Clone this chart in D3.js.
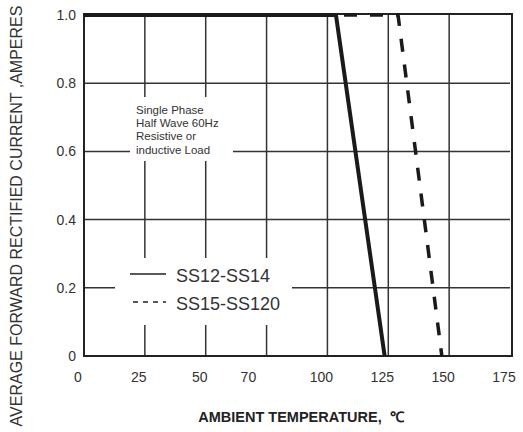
<!DOCTYPE html>
<html>
<head>
<meta charset="utf-8">
<script src="https://cdn.jsdelivr.net/npm/d3@7"></script>
<style>
  body { margin: 0; background: #fff; }
  text { font-family: "Liberation Sans", Arial, sans-serif; fill: #333; }
</style>
</head>
<body>
<div id="chart"></div>
<script>
// curves (temperature in C, current in A)
const tempSS12 = [0, 103.5, 123.5];
const ampSS12 = [1, 1, 0];
const tempSS15 = [0, 129, 147];
const ampSS15 = [1, 1, 0];

const xTickLabels = [0, 25, 50, 70, 100, 125, 150, 175];
const xGrid = [25, 50, 75, 100, 125, 150];
const yTicks = [0, 0.2, 0.4, 0.6, 0.8, 1.0];
const noteLines = ['Single Phase', 'Half Wave 60Hz', 'Resistive or', 'inductive Load'];
const legendNames = ['SS12-SS14', 'SS15-SS120'];

const width = 523, height = 432;
const plotLeft = 84, plotRight = 510, plotTop = 15, plotBottom = 356;

const svg = d3.select('#chart').append('svg')
  .attr('width', width)
  .attr('height', height);

const x = d3.scaleLinear().domain([0, 175]).range([plotLeft, plotRight]);
const y = d3.scaleLinear().domain([0, 1]).range([plotBottom, plotTop]);

// grid
svg.append('g').selectAll('line')
  .data(xGrid)
  .enter().append('line')
  .attr('x1', d => x(d)).attr('x2', d => x(d))
  .attr('y1', plotTop).attr('y2', plotBottom)
  .attr('stroke', '#333').attr('stroke-width', 1.5);

svg.append('g').selectAll('line')
  .data(yTicks.filter(d => d > 0 && d < 1))
  .enter().append('line')
  .attr('x1', plotLeft).attr('x2', plotRight)
  .attr('y1', d => y(d)).attr('y2', d => y(d))
  .attr('stroke', '#333').attr('stroke-width', 1.5);

// white boxes behind the note and the legend
svg.append('rect').attr('x', 130).attr('y', 97).attr('width', 103).attr('height', 64).attr('fill', '#fff');
svg.append('rect').attr('x', 115).attr('y', 258).attr('width', 177).attr('height', 67).attr('fill', '#fff');

// note
svg.append('g').selectAll('text')
  .data(noteLines)
  .enter().append('text')
  .attr('x', 136)
  .attr('y', (d, i) => 114 + i * 13.2)
  .style('font-size', '11.5px')
  .text(d => d);

// frame
svg.append('rect')
  .attr('x', plotLeft).attr('y', plotTop - 1)
  .attr('width', plotRight + 2 - plotLeft).attr('height', plotBottom - plotTop + 1)
  .attr('fill', 'none').attr('stroke', '#222').attr('stroke-width', 2);

// tick labels
svg.append('g').selectAll('text')
  .data(yTicks)
  .enter().append('text')
  .attr('x', 76).attr('y', d => y(d))
  .attr('dy', '0.35em')
  .attr('text-anchor', 'end')
  .style('font-size', '14px')
  .text(d => d === 0 ? '0' : d.toFixed(1));

svg.append('g').selectAll('text')
  .data(xTickLabels)
  .enter().append('text')
  .attr('x', d => x(d) - 6).attr('y', 382)
  .attr('text-anchor', 'middle')
  .style('font-size', '14px')
  .text(d => d);

// axis titles
svg.append('text')
  .attr('transform', 'translate(22,216) rotate(-90)')
  .attr('text-anchor', 'middle')
  .style('font-size', '16px')
  .text('AVERAGE FORWARD RECTIFIED CURRENT ,AMPERES');

svg.append('text')
  .attr('x', 301).attr('y', 422)
  .attr('text-anchor', 'middle')
  .style('font-size', '14.5px')
  .style('font-weight', 'bold')
  .style('fill', '#222')
  .style('white-space', 'pre')
  .text('AMBIENT TEMPERATURE,\u00a0\u00a0\u2103');

// curves
const line = d3.line().x(d => x(d[0])).y(d => y(d[1]));

svg.append('path')
  .attr('d', line(d3.zip(tempSS15, ampSS15)))
  .attr('fill', 'none').attr('stroke', '#1a1a1a')
  .attr('stroke-width', 3.5)
  .attr('stroke-dasharray', '13,13');

svg.append('path')
  .attr('d', line(d3.zip(tempSS12, ampSS12)))
  .attr('fill', 'none').attr('stroke', '#1a1a1a')
  .attr('stroke-width', 4);

// legend
const legend = svg.append('g').selectAll('g')
  .data(legendNames)
  .enter().append('g')
  .attr('transform', (d, i) => `translate(0,${274 + i * 28})`);

legend.append('line')
  .attr('x1', (d, i) => i ? 133 : 130).attr('x2', 166)
  .attr('stroke', '#222').attr('stroke-width', 1.5)
  .attr('stroke-dasharray', (d, i) => i ? '5,5' : null);

legend.append('text')
  .attr('x', 176).attr('y', 8)
  .style('font-size', '18px')
  .text(d => d);
</script>
</body>
</html>
